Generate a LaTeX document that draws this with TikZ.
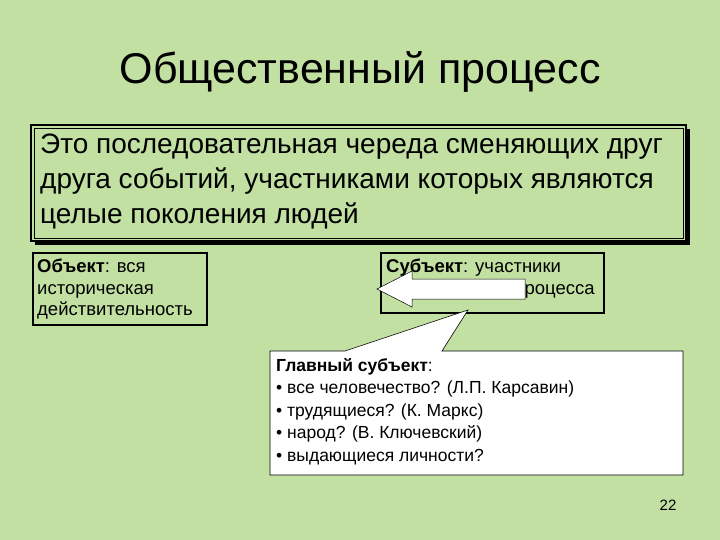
\documentclass[tikz,border=0pt]{standalone}
\usepackage{fontspec}
\setmainfont{Liberation Sans}
\begin{document}
\begin{tikzpicture}[x=1pt,y=-1pt,
  txt/.style={anchor=north west,align=left,inner sep=0pt},
  small/.style={font=\fontsize{18.5}{21.5}\selectfont}]
\definecolor{bg}{HTML}{C2E0A2}
\fill[bg] (0,0) rectangle (720,540);
\useasboundingbox (0,0) rectangle (720,540);
\node (title) at (360,72) {\fontsize{43}{48}\selectfont Общественный процесс};
% definition box with shadow
\fill[black] (35,129) rectangle (690,245);
\fill[bg] (31,125) rectangle (686,241);
\draw[line width=1.2pt] (31,125) rectangle (686,241);
\draw[line width=0.6pt] (34,128) rectangle (683,238);
\node[txt,font=\fontsize{28}{35}\selectfont] (def) at (40,134) {Это последовательная череда сменяющих друг\\друга событий, участниками которых являются\\целые поколения людей};
% object box
\draw[line width=2.2pt] (33,253) rectangle (207,325);
\node[txt,small] (obj) at (37,259) {\textbf{Объект}: вся\\историческая\\действительность};
% subject box
\draw[line width=2.2pt] (381,253) rectangle (604,313);
\node[txt,small] (subj) at (386,259) {\textbf{Субъект}: участники\\исторического процесса};
% arrow
\draw[fill=white,line width=0.5pt] (525,279) -- (412,279) -- (412,271) -- (377,289) -- (412,307) -- (412,299) -- (525,299) -- cycle;
% callout
\draw[fill=white,line width=0.6pt] (270,351) -- (345,351) -- (468,310) -- (442,351) -- (683,351) -- (683,475) -- (270,475) -- cycle;
\node[txt,font=\fontsize{17.5}{22.5}\selectfont] (main) at (276,358) {\textbf{Главный субъект}:\\• все человечество? (Л.П. Карсавин)\\• трудящиеся? (К. Маркс)\\• народ? (В. Ключевский)\\• выдающиеся личности?};
\node (num) at (668,505) {\fontsize{15}{17}\selectfont 22};
\end{tikzpicture}
\end{document}
